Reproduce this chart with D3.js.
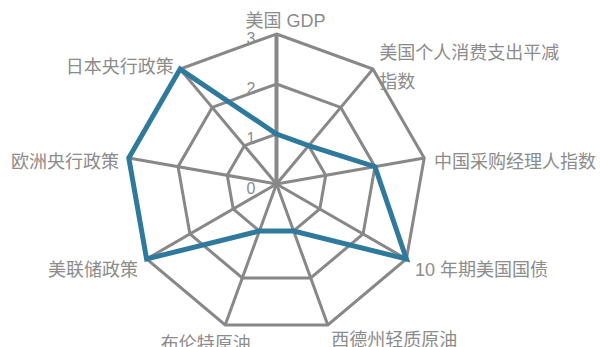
<!DOCTYPE html>
<html>
<head>
<meta charset="utf-8">
<script src="https://cdn.jsdelivr.net/npm/d3@7"></script>
<style>
  html, body { margin: 0; padding: 0; background: #fff; }
  svg { display: block; }
  text { font-family: "Liberation Sans", "Noto Sans CJK SC", sans-serif; }
</style>
</head>
<body>
<svg id="chart" width="600" height="347"></svg>
<script>
// Axes of the radar, clockwise from the top
const categories = [
  "美国 GDP",
  "美国个人消费支出平减指数",
  "中国采购经理人指数",
  "10 年期美国国债",
  "西德州轻质原油",
  "布伦特原油",
  "美联储政策",
  "欧洲央行政策",
  "日本央行政策"
];
// Score on each axis
const values = [1, 1, 2, 3, 1, 1, 3, 3, 3];
// Radial tick levels
const tickLevels = [0, 1, 2, 3];

const svg = d3.select("#chart");
const cx = 276.5, cy = 184, R = 150;
const gridColor = "#888888";
const textColor = "#8c8c8c";
const lineColor = "#2f7a9c";

const r = d3.scaleLinear().domain([0, d3.max(tickLevels)]).range([0, R]);
const angle = d3.scaleLinear().domain([0, categories.length]).range([0, 2 * Math.PI]);

const pt = (i, v) => {
  const a = angle(i);
  return [cx + r(v) * Math.sin(a), cy - r(v) * Math.cos(a)];
};

const g = svg.append("g");

// Concentric grid polygons (skip level 0, which is the centre)
const polyLine = d3.line().curve(d3.curveLinearClosed);
tickLevels.filter(t => t > 0).forEach(t => {
  g.append("path")
    .attr("d", polyLine(categories.map((c, i) => pt(i, t))))
    .attr("fill", "none")
    .attr("stroke", gridColor)
    .attr("stroke-width", 3)
    .attr("stroke-linejoin", "miter");
});

// Spokes
categories.forEach((c, i) => {
  const [x, y] = pt(i, d3.max(tickLevels));
  g.append("line")
    .attr("x1", cx).attr("y1", cy)
    .attr("x2", x).attr("y2", y)
    .attr("stroke", gridColor)
    .attr("stroke-width", i === 0 ? 4 : 3);
});

// Tick labels along the top spoke
g.selectAll(".tick")
  .data(tickLevels)
  .join("text")
  .attr("class", "tick")
  .attr("x", cx - 21)
  .attr("y", t => cy - r(t) + 4)
  .attr("text-anchor", "end")
  .attr("dominant-baseline", "central")
  .attr("font-size", 16)
  .attr("fill", textColor)
  .text(t => t);

// Data polygon
g.append("path")
  .attr("d", polyLine(values.map((v, i) => pt(i, v))))
  .attr("fill", "none")
  .attr("stroke", lineColor)
  .attr("stroke-width", 5)
  .attr("stroke-linejoin", "miter");

// Category labels
const labelFont = 18, lineHeight = 29, maxLabelWidth = 185;
const labelShiftX = { "美国 GDP": 9, "布伦特原油": 29 };
const labelShiftY = { "美国 GDP": -9, "布伦特原油": 4 };

categories.forEach((c, i) => {
  const a = angle(i);
  const s = Math.sin(a), co = Math.cos(a);
  const lx = cx + (R + 10) * s + (labelShiftX[c] || 0);
  const ly = cy - (R + 10) * co;
  let anchor = "middle";
  if (s > 0.01) anchor = "start";
  else if (s < -0.01) anchor = "end";

  const t = g.append("text")
    .attr("text-anchor", anchor)
    .attr("font-size", labelFont)
    .attr("fill", textColor);

  // Wrap long labels character by character
  const chars = Array.from(c);
  const lines = [];
  let cur = "";
  const probe = t.append("tspan");
  chars.forEach(ch => {
    probe.text(cur + ch);
    if (cur && probe.node().getComputedTextLength() > maxLabelWidth) {
      lines.push(cur);
      cur = ch;
    } else {
      cur += ch;
    }
  });
  lines.push(cur);
  probe.remove();

  const centerY = ly + 6 + (labelShiftY[c] || 0);
  const startY = centerY - (lines.length - 1) * lineHeight / 2;
  lines.forEach((ln, k) => {
    t.append("tspan")
      .attr("x", lx)
      .attr("y", startY + k * lineHeight)
      .attr("dominant-baseline", "central")
      .text(ln);
  });
});
</script>
</body>
</html>
